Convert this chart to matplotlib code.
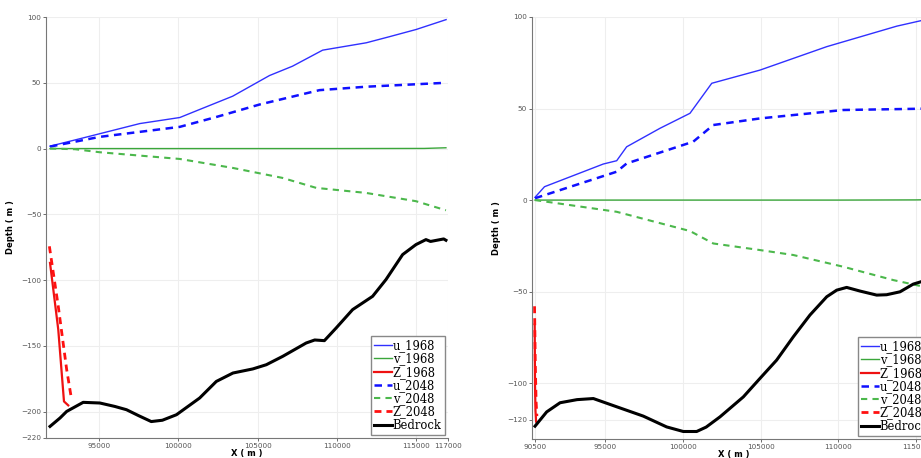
import numpy as np
import matplotlib
matplotlib.use("Agg")
import matplotlib.pyplot as plt

# ---- left panel data ----
L_u68_x = [91920, 94010, 97580, 100100, 101350, 103430, 105750, 107200, 109100, 111850, 113300, 114990, 116880]
L_u68_y = [1.8, 8.1, 19, 23.6, 29.7, 39.8, 55.5, 62.6, 74.8, 80.4, 85, 90.5, 98]
L_u48_x = [91920, 95060, 100100, 102400, 105130, 108900, 111830, 116870]
L_u48_y = [1.5, 8.9, 16.5, 24, 33.5, 44.4, 47, 50]
L_v68_x = [91920, 100000, 110000, 115500, 116870]
L_v68_y = [0, 0, 0, 0.1, 0.6]
L_v48_x = [91920, 93500, 95060, 100100, 103430, 106570, 108700, 111830, 114980, 116870]
L_v48_y = [0, -0.5, -2.8, -7.9, -14.7, -22.3, -29.9, -33.7, -40, -46.9]
L_z68_x = [91920, 92440, 92800, 93070]
L_z68_y = [-86.9, -137.6, -192.2, -195.2]
L_z48_x = [91880, 92440, 92970, 93280]
L_z48_y = [-74.3, -119.9, -168, -190.9]
L_bed_x = [91920, 92550, 92970, 94010, 95060, 96000, 96740, 97500, 98300, 99000, 99890, 101350, 102400,
           103450, 104700, 105550, 106590, 108060, 108600, 109210, 109950, 110990, 112250, 113090,
           114140, 114980, 115610, 115900, 116730, 116870]
L_bed_y = [-211.2, -204.8, -199.8, -192.9, -193.4, -196, -198.5, -203, -207.5, -206.5, -202.3, -189.6, -177,
           -170.6, -167.5, -164.3, -157.9, -147.8, -145.5, -146, -136.4, -122.4, -112.3, -99.6,
           -80.6, -73, -69.2, -70.6, -68.7, -69.7]

# ---- right panel data ----
R_u68_x = [90500, 91110, 94890, 95750, 96390, 98530, 100460, 101860, 104960, 109250, 113750, 115310, 116200]
R_u68_y = [1.5, 7.3, 19.7, 21.5, 29.1, 39.2, 47.4, 63.8, 71, 83.8, 95, 98, 99.5]
R_u48_x = [90500, 95750, 96390, 100670, 101960, 104960, 110310, 115310, 116200]
R_u48_y = [1, 15.5, 20, 31.9, 41, 44.6, 49.2, 49.9, 50]
R_v68_x = [90500, 100000, 110000, 115000, 116200]
R_v68_y = [0, 0, 0, 0.1, 0.3]
R_v48_x = [90500, 95750, 100460, 101960, 104960, 107100, 110310, 113530, 115310, 116200]
R_v48_y = [0, -6.4, -16.9, -23.7, -27.3, -30, -36.4, -43.7, -47, -48.5]
R_z68_x = [90480, 90500, 90530, 90570]
R_z68_y = [-68, -100, -115, -121]
R_z48_x = [90470, 90520, 90570, 90620]
R_z48_y = [-58, -90, -110, -118]
R_bed_x = [90500, 91250, 92110, 93200, 94250, 95750, 97460, 98960, 100030, 100890, 101500, 102390,
           103890, 104960, 106030, 107100, 108170, 109250, 109890, 110530, 111390, 112460, 113100,
           113960, 114810, 115310, 116200]
R_bed_y = [-123.5, -115.7, -110.7, -109, -108.4, -112.9, -118, -123.9, -126.4, -126.4, -124, -118.4,
           -107.5, -97.4, -87.4, -74.7, -62.8, -52.8, -49.2, -47.7, -49.7, -51.9, -51.7,
           -50.1, -45.9, -44.6, -42]

L_xticks = [95000, 100000, 105000, 110000, 115000, 117000]
L_yticks = [100, 50, 0, -50, -100, -150, -200, -220]
R_xticks = [90500, 95000, 100000, 105000, 110000, 115000]
R_yticks = [100, 50, 0, -50, -100, -120]

fig = plt.figure(figsize=(9.21, 4.58), dpi=100)
axL = fig.add_axes([46 / 921, 20 / 458, 402 / 921, 421 / 458])
axR = fig.add_axes([532 / 921, 19 / 458, 403 / 921, 422 / 458])


def draw(ax, d, xlim, ylim, xticks, yticks):
    ax.plot(d["u68"][0], d["u68"][1], color="#3030ff", lw=1.0, label="u_1968")
    ax.plot(d["v68"][0], d["v68"][1], color="#3aa63a", lw=1.0, label="v_1968")
    ax.plot(d["z68"][0], d["z68"][1], color="#ee1111", lw=1.6, label="Z_1968")
    ax.plot(d["u48"][0], d["u48"][1], color="#1010ff", lw=1.8, ls=(0, (3, 2.2)), label="u_2048")
    ax.plot(d["v48"][0], d["v48"][1], color="#4cb84c", lw=1.5, ls=(0, (3, 2.5)), label="v_2048")
    ax.plot(d["z48"][0], d["z48"][1], color="#ff1010", lw=2.0, ls=(0, (2.5, 1.8)), label="Z_2048")
    ax.plot(d["bed"][0], d["bed"][1], color="black", lw=2.2, label="Bedrock")
    ax.set_xlim(*xlim)
    ax.set_ylim(*ylim)
    ax.set_xticks(xticks)
    ax.set_yticks(yticks)
    ax.grid(True, color="#eeeeee", lw=0.8)
    ax.set_axisbelow(True)
    for s in ["top", "right"]:
        ax.spines[s].set_visible(False)
    for s in ["left", "bottom"]:
        ax.spines[s].set_color("#777777")
    ax.tick_params(labelsize=5.2, colors="#555555", length=2.5, width=0.6, pad=1)
    ax.set_xlabel("X ( m )", fontsize=6, fontweight="bold")
    ax.xaxis.set_label_coords(0.5, -0.027)
    ax.set_ylabel("Depth ( m )", fontsize=6, fontweight="bold")
    ax.yaxis.set_label_coords(-0.078, 0.5)
    leg = ax.legend(loc="lower right", prop={"family": "DejaVu Serif", "size": 8.3},
                    handlelength=1.5, handletextpad=0.1, labelspacing=0.02,
                    borderpad=0.25, borderaxespad=0.3, fancybox=False, framealpha=1)
    leg.get_frame().set_edgecolor("#888888")
    leg.get_frame().set_linewidth(1.0)


draw(axL, {"u68": (L_u68_x, L_u68_y), "u48": (L_u48_x, L_u48_y), "v68": (L_v68_x, L_v68_y),
           "v48": (L_v48_x, L_v48_y), "z68": (L_z68_x, L_z68_y), "z48": (L_z48_x, L_z48_y),
           "bed": (L_bed_x, L_bed_y)},
     (91667, 117000), (-220, 100), L_xticks, L_yticks)
draw(axR, {"u68": (R_u68_x, R_u68_y), "u48": (R_u48_x, R_u48_y), "v68": (R_v68_x, R_v68_y),
           "v48": (R_v48_x, R_v48_y), "z68": (R_z68_x, R_z68_y), "z48": (R_z48_x, R_z48_y),
           "bed": (R_bed_x, R_bed_y)},
     (90307, 116208), (-130.5, 100), R_xticks, R_yticks)

fig.savefig("out.png", dpi=100)
